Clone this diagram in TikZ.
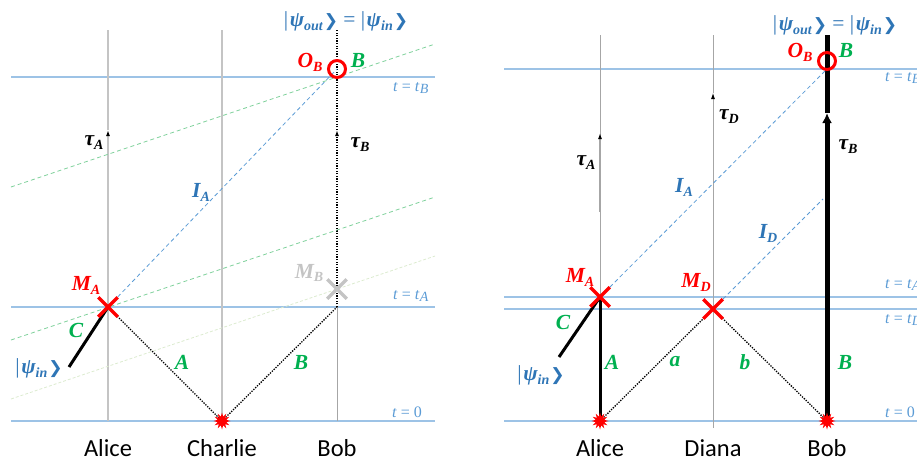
\documentclass[tikz,border=0pt]{standalone}
\usepackage{fontspec}
\setmainfont{Liberation Serif}
\newfontfamily\namefont{Carlito}
\newfontfamily\symbfont{DejaVu Sans}
\usetikzlibrary{arrows.meta,shapes.geometric,shapes.misc}
\definecolor{tblue}{HTML}{2E75B6}
\definecolor{lblue}{HTML}{9DC3E6}
\definecolor{dblue}{HTML}{5B9BD5}
\definecolor{tgreen}{HTML}{00B050}
\definecolor{lgreen}{HTML}{7FD19B}
\definecolor{pgreen}{HTML}{DCEBCF}
\definecolor{lgray}{HTML}{C4C4C4}
\definecolor{mgray}{HTML}{A6A6A6}
\newcommand{\lsub}[1]{\raisebox{-0.4ex}{\fontsize{14}{14}\selectfont #1}}
\newcommand{\myket}[1]{{\mdseries\upshape|}\kern1.5pt\textit{ψ}\lsub{#1}\kern1pt{\symbfont\mdseries\upshape\fontsize{17}{17}\selectfont ❯}}
\tikzset{
  lab/.style={font=\fontsize{21.5}{21.5}\selectfont\bfseries\itshape, inner sep=0},
  redlab/.style={lab, text=red},
  greenlab/.style={lab, text=tgreen},
  bluelab/.style={lab, text=tblue},
  blacklab/.style={lab, text=black},
  graylab/.style={lab, text=lgray},
  tlab/.style={font=\fontsize{16}{16}\selectfont, text=dblue, anchor=west, inner sep=0},
  namelab/.style={font=\namefont\fontsize{24.5}{24.5}\selectfont, inner sep=0},
  worldline/.style={lgray, line width=1.6pt},
  thinline/.style={mgray, line width=0.8pt},
  timeline/.style={lblue, line width=1.1pt},
  photon/.style={black, line width=1.3pt, dash pattern=on 1.3pt off 1.3pt},
  idash/.style={dblue, line width=0.8pt, dash pattern=on 4pt off 3pt},
  gdash/.style={lgreen, line width=0.8pt, dash pattern=on 4pt off 3pt},
  pdash/.style={pgreen, line width=0.8pt, dash pattern=on 3pt off 2pt},
  tip/.style={-{Latex[length=6pt,width=4pt,black]}},
  meas/.style={cross out, draw=red, line width=3.5pt, minimum size=16pt, inner sep=0},
  gmeas/.style={cross out, draw=lgray, line width=3.5pt, minimum size=16pt, inner sep=0},
  outc/.style={circle, draw=red, line width=3pt, minimum size=17pt, inner sep=0},
  burst/.style={star, star points=12, star point ratio=1.9, fill=red, minimum size=17pt, inner sep=0},
}
\begin{document}
\begin{tikzpicture}[x=1pt,y=-1pt]
\useasboundingbox (0,0) rectangle (917,461);
\clip (0,0) rectangle (917,461);
% ================= LEFT PANEL =================
\coordinate (LAt) at (108,30);  \coordinate (LAa) at (108,130); \coordinate (LAb) at (108,421);
\coordinate (LCt) at (222,30);  \coordinate (LCb) at (222,421);
\coordinate (LBt) at (337,30);  \coordinate (LBa) at (337,130); \coordinate (LBm) at (337,307); \coordinate (LBb) at (337,421);
\coordinate (LMA) at (108,307);
\coordinate (LOB) at (337,69);
\coordinate (LMB) at (337,289);
\coordinate (LS) at (222,421);
\coordinate (LCin) at (69,367);
\coordinate (LtBl) at (11,77);  \coordinate (LtBr) at (435,77);
\coordinate (LtAl) at (11,307); \coordinate (LtAr) at (435,307);
\coordinate (L0l) at (11,421);  \coordinate (L0r) at (435,421);
\coordinate (Lg1l) at (11,187); \coordinate (Lg1r) at (435,44);
\coordinate (Lg2l) at (11,340); \coordinate (Lg2r) at (435,197);
\coordinate (Lg3l) at (11,399); \coordinate (Lg3r) at (435,256);
% time lines
\draw[timeline] (LtBl) -- (LtBr);
\draw[timeline] (LtAl) -- (LtAr);
\draw[timeline] (L0l) -- (L0r);
% world lines
\draw[worldline, tip] (LAb) -- (LAa);
\draw[worldline] (LAa) -- (LAt);
\draw[worldline] (LCb) -- (LCt);
\draw[mgray, line width=0.8pt] (LBb) -- (LBm);
\draw[photon, tip] (LBm) -- (LBa);
\draw[photon] (LBa) -- (LBt);
% simultaneity lines
\draw[gdash] (Lg1l) -- (Lg1r);
\draw[gdash] (Lg2l) -- (Lg2r);
\draw[pdash] (Lg3l) -- (Lg3r);
% interval
\draw[idash] (LMA) -- (LOB);
% photons
\draw[photon] (LMA) -- (LS);
\draw[photon] (LS) -- (LBm);
\draw[black, line width=3pt] (LMA) -- (LCin);
% markers
\node[gmeas] (nLMB) at (LMB) {};
\node[meas] (nLMA) at (LMA) {};
\node[outc] (nLOB) at (LOB) {};
\node[burst] (nLS) at (LS) {};
% labels
\node[bluelab] (lLout) at (346,21) {\myket{out} {\mdseries\upshape=} \myket{in}};
\node[redlab] (lLOB) at (310,62) {O\lsub{B}};
\node[greenlab] (lLB) at (358,60) {B};
\node[blacklab] (lLtA) at (94,143) {τ\lsub{A}};
\node[blacklab] (lLtB) at (360,145) {τ\lsub{B}};
\node[bluelab] (lLIA) at (201,192) {I\lsub{A}};
\node[redlab] (lLMA) at (86,285) {M\lsub{A}};
\node[graylab] (lLMB) at (309,273) {M\lsub{B}};
\node[greenlab] (lLC) at (76,330) {C};
\node[greenlab] (lLAa) at (182,362) {A};
\node[greenlab] (lLBb) at (301,362) {B};
\node[bluelab] (lLin) at (39,368) {\myket{in}};
\node[tlab] (lLtBt) at (393,88) {\textit{t} = \textit{t}\lsub{\textit{B}}};
\node[tlab] (lLtAt) at (393,296) {\textit{t} = \textit{t}\lsub{\textit{A}}};
\node[tlab] (lL0t) at (392,412) {\textit{t} = 0};
\node[namelab] (nAlice) at (108,448) {Alice};
\node[namelab] (nCharlie) at (222,448) {Charlie};
\node[namelab] (nBobL) at (337,448) {Bob};
% ================= RIGHT PANEL =================
\coordinate (RAt) at (600,35); \coordinate (RAa) at (600,133); \coordinate (RAs) at (600,212); \coordinate (RAb) at (600,421);
\coordinate (RDt) at (713,35); \coordinate (RDa) at (713,93); \coordinate (RDb) at (713,428);
\coordinate (RBt) at (827,35); \coordinate (RBa) at (827,113); \coordinate (RBb) at (827,421);
\coordinate (RMA) at (600,297);
\coordinate (RMD) at (713,309);
\coordinate (ROB) at (827,61);
\coordinate (RIB) at (827,69);
\coordinate (RIDe) at (823,199);
\coordinate (RCin) at (559,357);
\coordinate (RtBl) at (504,69);  \coordinate (RtBr) at (917,69);
\coordinate (RtAl) at (504,297); \coordinate (RtAr) at (917,297);
\coordinate (RtDl) at (504,309); \coordinate (RtDr) at (917,309);
\coordinate (R0l) at (504,421);  \coordinate (R0r) at (917,421);
\draw[timeline] (RtBl) -- (RtBr);
\draw[timeline, line width=1.5pt] (RtAl) -- (RtAr);
\draw[timeline, line width=1.5pt] (RtDl) -- (RtDr);
\draw[timeline, line width=1.5pt] (R0l) -- (R0r);
\draw[thinline] (RAb) -- (RAt);
\draw[mgray, line width=1.8pt, tip] (RAs) -- (RAa);
\draw[thinline, tip] (RDb) -- (RDa);
\draw[thinline] (RDa) -- (RDt);
\draw[black, line width=3pt] (RAb) -- (RMA);
\draw[black, line width=5pt, -{Latex[length=10pt,width=10pt]}] (RBb) -- (RBa);
\draw[black, line width=5pt] (RBa) -- (RBt);
\draw[idash] (RMA) -- (RIB);
\draw[idash] (RMD) -- (RIDe);
\draw[photon] (RAb) -- (RMD);
\draw[photon] (RMD) -- (RBb);
\draw[black, line width=3pt] (RMA) -- (RCin);
\node[meas] (nRMA) at (RMA) {};
\node[meas] (nRMD) at (RMD) {};
\node[outc] (nROB) at (ROB) {};
\node[burst] (nRSA) at (RAb) {};
\node[burst] (nRSB) at (RBb) {};
\node[bluelab] (lRout) at (835,25) {\myket{out} {\mdseries\upshape=} \myket{in}};
\node[redlab] (lROB) at (800,52) {O\lsub{B}};
\node[greenlab] (lRB) at (846,50) {B};
\node[blacklab] (lRtA) at (586,163) {τ\lsub{A}};
\node[blacklab] (lRtD) at (729,117) {τ\lsub{D}};
\node[blacklab] (lRtB) at (848,147) {τ\lsub{B}};
\node[bluelab] (lRIA) at (684,187) {I\lsub{A}};
\node[bluelab] (lRID) at (768,233) {I\lsub{D}};
\node[redlab] (lRMA) at (580,277) {M\lsub{A}};
\node[redlab] (lRMD) at (696,282) {M\lsub{D}};
\node[greenlab] (lRC) at (563,322) {C};
\node[greenlab] (lRAa) at (612,362) {A};
\node[greenlab] (lRa) at (675,362) {a};
\node[greenlab] (lRb) at (745,362) {b};
\node[greenlab] (lRBb) at (845,362) {B};
\node[bluelab] (lRin) at (541,375) {\myket{in}};
\node[tlab] (lRtBt) at (885,78) {\textit{t} = \textit{t}\lsub{\textit{B}}};
\node[tlab] (lRtAt) at (885,285) {\textit{t} = \textit{t}\lsub{\textit{A}}};
\node[tlab] (lRtDt) at (885,320) {\textit{t} = \textit{t}\lsub{\textit{D}}};
\node[tlab] (lR0t) at (885,412) {\textit{t} = 0};
\node[namelab] (nAliceR) at (600,448) {Alice};
\node[namelab] (nDiana) at (713,448) {Diana};
\node[namelab] (nBobR) at (827,448) {Bob};
\end{tikzpicture}
\end{document}
